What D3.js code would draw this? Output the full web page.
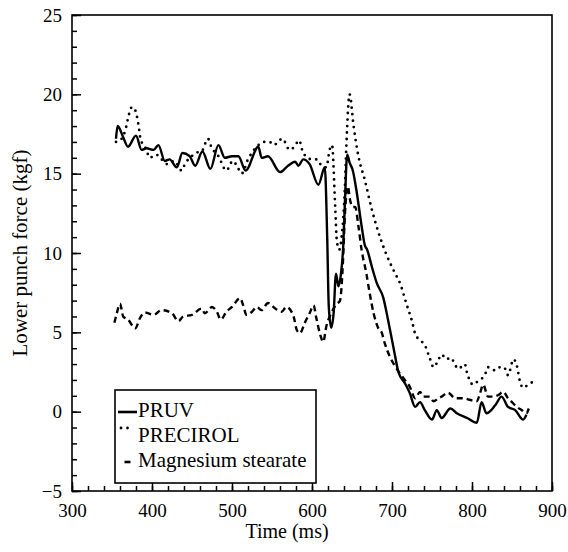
<!DOCTYPE html>
<html>
<head>
<meta charset="utf-8">
<script src="https://cdn.jsdelivr.net/npm/d3@7"></script>
<style>
    body { margin: 0; background: #fff; }
    svg { display: block; font-family: "Liberation Serif", "Times New Roman", serif; }
    .axis path { display: none; }
    .axis line { stroke: #000; stroke-width: 1.5px; }
    .axis text { font-size: 19px; fill: #000; font-family: "Liberation Serif", serif; }
</style>
</head>
<body>
<svg id="chart" width="568" height="552"></svg>
<script>
    // time (ms) and lower punch force (kgf)
    var pruvTime = [355, 357, 364, 370, 380, 387, 393, 402, 408, 416, 422, 431, 438, 447, 454, 463, 473, 483, 491, 500,
        508, 517, 533, 537, 545, 560, 570, 579, 583, 589, 597, 608, 616, 619, 621, 624, 627, 630, 633, 636,
        639, 641, 644, 647, 651, 656, 662, 666, 669, 675, 681, 689, 695, 702, 708, 716, 722, 729, 735, 741,
        750, 756, 762, 773, 781, 794, 806, 812, 818, 829, 837, 845, 854, 864, 868];
    var pruvForce = [17.2, 18.0, 17.3, 16.7, 17.4, 16.5, 16.6, 16.5, 16.8, 15.8, 15.9, 15.4, 16.3, 16.1, 15.5, 16.4, 15.3, 16.8, 16.0, 16.1,
        16.1, 15.2, 16.7, 16.0, 16.1, 15.1, 15.5, 15.75, 15.5, 15.9, 15.6, 14.3, 15.4, 11.0, 6.6, 5.3, 6.2, 8.7, 7.9, 8.6,
        10.4, 13.0, 16.2, 15.7, 15.2, 13.8, 11.7, 10.5, 10.2, 9.1, 8.1, 7.2, 5.8, 4.0, 2.5, 1.8, 1.2, 0.3, 0.6, 0.1,
        -0.5, 0.1, -0.4, 0.2, -0.1, -0.4, -0.7, 0.6, -0.1, 0.4, 0.95, 0.3, 0.1, -0.5, -0.2];

    var precirolTime = [355, 362, 367, 371, 375, 379, 383, 386, 390, 393, 397, 405, 412, 419, 428, 437, 442, 448, 454, 462,
        470, 474, 483, 493, 501, 507, 512, 520, 531, 541, 547, 552, 563, 572, 578, 584, 589, 600, 606, 612,
        618, 622, 625, 629, 631, 634, 637, 641, 643, 647, 652, 658, 666, 675, 685, 693, 704, 710, 718, 725,
        729, 735, 741, 747, 752, 757, 762, 768, 773, 783, 791, 794, 797, 801, 808, 816, 820, 829, 835, 840,
        845, 852, 856, 860, 864, 870, 877];
    var precirolForce = [17.0, 17.2, 17.8, 18.7, 19.2, 19.0, 18.1, 17.1, 16.8, 16.5, 16.0, 16.2, 15.9, 15.6, 15.8, 15.2, 15.7, 16.0, 16.3, 16.4,
        17.2, 16.7, 16.1, 15.2, 15.8, 15.4, 15.0, 15.9, 16.7, 17.0, 17.0, 16.8, 17.2, 16.5, 16.7, 17.1, 16.3, 15.9, 15.9, 15.5,
        15.4, 16.5, 16.8, 12.9, 10.8, 10.2, 11.0, 14.0, 16.8, 20.0, 18.0, 16.1, 14.6, 12.7, 11.0, 9.9, 8.7, 8.1, 6.8, 5.7,
        4.9, 4.5, 4.2, 3.4, 2.8, 3.15, 3.6, 3.3, 3.4, 2.7, 3.0, 2.4, 2.0, 1.7, 1.95, 2.3, 2.8, 2.6, 2.8, 2.8,
        2.3, 3.3, 2.9, 1.9, 1.5, 1.7, 1.9];

    var mgTime = [353, 356, 360, 364, 370, 379, 385, 391, 402, 412, 425, 433, 439, 450, 462, 466, 475, 481, 486, 493,
        500, 510, 514, 518, 525, 531, 537, 545, 554, 562, 568, 577, 581, 585, 591, 597, 602, 605, 610, 614,
        618, 624, 631, 635, 639, 641, 645, 647, 651, 654, 658, 662, 668, 672, 677, 683, 687, 691, 697, 704,
        710, 716, 722, 729, 735, 739, 747, 752, 758, 762, 770, 779, 789, 797, 806, 810, 814, 820, 826, 833,
        839, 845, 849, 856, 862, 868, 871];
    var mgForce = [5.6, 6.2, 6.8, 6.0, 5.8, 5.25, 5.9, 6.25, 6.1, 6.4, 6.2, 5.7, 6.0, 6.1, 6.5, 6.2, 6.6, 6.3, 5.8, 6.3,
        6.6, 7.15, 6.7, 6.1, 6.3, 6.6, 6.4, 6.85, 6.5, 6.3, 6.6, 6.0, 5.15, 4.95, 5.6, 6.2, 6.7, 6.0, 4.9, 4.4,
        5.4, 6.2, 6.8, 7.0, 9.8, 12.3, 14.2, 13.5, 12.9, 12.9, 11.7, 10.2, 8.7, 7.5, 6.2, 5.25, 5.0, 4.3, 3.5, 2.85,
        2.4, 2.0, 1.6, 0.85, 1.25, 0.95, 0.95, 0.65, 0.85, 0.95, 1.2, 0.85, 0.85, 0.75, 0.65, 1.15, 1.7, 0.95, 0.95, 1.05,
        1.25, 0.85, 0.65, 0.3, 0.1, -0.1, 0.2];

    var seriesNames = ["PRUV", "PRECIROL", "Magnesium stearate"];
    var xTicks = [300, 400, 500, 600, 700, 800, 900];
    var yTicks = [-5, 0, 5, 10, 15, 20, 25];

    var svg = d3.select("#chart");
    var margin = { top: 15, right: 16, bottom: 61, left: 72 },
        width = +svg.attr("width") - margin.left - margin.right,
        height = +svg.attr("height") - margin.top - margin.bottom;

    var g = svg.append("g").attr("transform", `translate(${margin.left},${margin.top})`);

    var x = d3.scaleLinear().domain([300, 900]).range([0, width]);
    var y = d3.scaleLinear().domain([-5, 25]).range([height, 0]);

    // minor ticks first, then the labelled ones
    g.append("g")
        .attr("class", "axis")
        .attr("transform", `translate(0,${height})`)
        .call(d3.axisBottom(x).tickValues(d3.range(300, 901, 20)).tickSize(-5).tickFormat(""));
    g.append("g")
        .attr("class", "axis")
        .attr("transform", `translate(0,${height})`)
        .call(d3.axisBottom(x).tickValues(xTicks).tickSize(-9).tickPadding(12.5));

    g.append("g")
        .attr("class", "axis")
        .call(d3.axisLeft(y).tickValues(d3.range(-5, 26, 1)).tickSize(-5).tickFormat(""));
    g.append("g")
        .attr("class", "axis")
        .call(d3.axisLeft(y).tickValues(yTicks).tickSize(-9).tickPadding(10));

    g.append("rect")
        .attr("width", width)
        .attr("height", height)
        .attr("fill", "none")
        .attr("stroke", "#000")
        .attr("stroke-width", 1.6);

    var line = d3.line()
        .x(d => x(d[0]))
        .y(d => y(d[1]))
        .curve(d3.curveMonotoneX);

    var series = [
        { name: seriesNames[0], data: d3.zip(pruvTime, pruvForce), dash: null, cap: "butt" },
        { name: seriesNames[1], data: d3.zip(precirolTime, precirolForce), dash: "0 6.5", cap: "round" },
        { name: seriesNames[2], data: d3.zip(mgTime, mgForce), dash: "6 4", cap: "butt" }
    ];

    g.selectAll(".series")
        .data(series)
        .enter()
        .append("path")
        .attr("class", "series")
        .attr("fill", "none")
        .attr("stroke", "#000")
        .attr("stroke-width", d => d.cap == "round" ? 2.8 : 2.4)
        .attr("stroke-linecap", d => d.cap)
        .attr("stroke-linejoin", "round")
        .attr("stroke-dasharray", d => d.dash)
        .attr("d", d => line(d.data));

    // legend
    var legend = svg.append("g");
    legend.append("rect")
        .attr("x", 115).attr("y", 390)
        .attr("width", 201).attr("height", 93)
        .attr("fill", "#fff")
        .attr("stroke", "#000")
        .attr("stroke-width", 1.6);

    var sampleX = [[118, 137], [121, 134], [124.5, 130.5]];
    var sampleY = [412, 428, 462];
    legend.selectAll(".sample")
        .data(series)
        .enter()
        .append("line")
        .attr("x1", (d, i) => sampleX[i][0])
        .attr("x2", (d, i) => sampleX[i][1])
        .attr("y1", (d, i) => sampleY[i])
        .attr("y2", (d, i) => sampleY[i])
        .attr("stroke", "#000")
        .attr("stroke-width", d => d.cap == "round" ? 2.8 : 2.6)
        .attr("stroke-linecap", d => d.cap)
        .attr("stroke-dasharray", d => d.dash);

    legend.selectAll(".label")
        .data(series)
        .enter()
        .append("text")
        .attr("x", 138)
        .attr("y", (d, i) => 417 + i * 25)
        .style("font-size", "21px")
        .text(d => d.name);

    svg.append("text")
        .attr("x", 287)
        .attr("y", 538)
        .attr("text-anchor", "middle")
        .style("font-size", "20px")
        .text("Time (ms)");

    svg.append("text")
        .attr("transform", "translate(27,253) rotate(-90)")
        .attr("text-anchor", "middle")
        .style("font-size", "21px")
        .text("Lower punch force (kgf)");
</script>
</body>
</html>
